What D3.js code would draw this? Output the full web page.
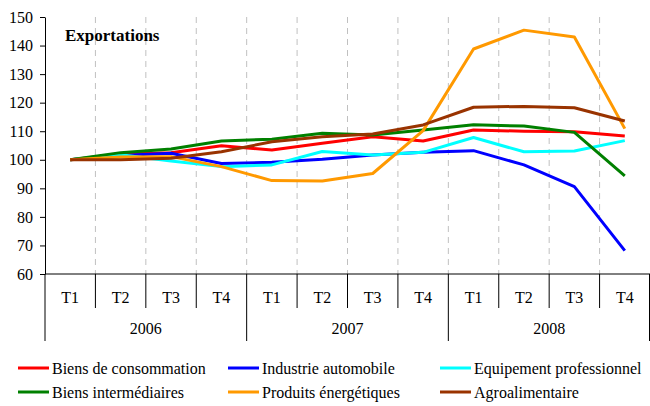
<!DOCTYPE html>
<html>
<head>
<meta charset="utf-8">
<script src="https://cdn.jsdelivr.net/npm/d3@7"></script>
<style>
  body { margin: 0; background: #fff; }
</style>
</head>
<body>
<script>
// quarters and years
const quarters = ["T1", "T2", "T3", "T4", "T1", "T2", "T3", "T4", "T1", "T2", "T3", "T4"];
const years = ["2006", "2007", "2008"];
const yTicks = [60, 70, 80, 90, 100, 110, 120, 130, 140, 150];

// series values
const consommation = [100, 102, 102.5, 104.9, 103.4, 105.8, 108.1, 106.6, 110.4, 110, 109.8, 108.3];
const automobile = [100, 101.5, 102.3, 98.7, 99.1, 100.2, 101.7, 102.6, 103.2, 98.2, 90.6, 68.2];
const equipement = [100, 101.8, 99.6, 97.6, 98.2, 102.9, 101.7, 102.6, 107.8, 102.8, 103.1, 106.7];
const intermediaires = [100, 102.5, 103.8, 106.6, 107.2, 109.3, 108.7, 110.4, 112.3, 111.8, 109.6, 94.4];
const energetiques = [100, 101, 101.1, 97.6, 92.7, 92.6, 95.2, 110.2, 138.8, 145.4, 143, 110.9];
const agro = [100, 100, 100.5, 102.8, 106.3, 108.1, 109, 112.2, 118.4, 118.7, 118.2, 113.6];

const seriesNames = ["Biens de consommation", "Industrie automobile", "Equipement professionnel",
  "Biens intermédiaires", "Produits énergétiques", "Agroalimentaire"];
const seriesColors = ["#ff0000", "#0000ff", "#00ffff", "#008000", "#ff9900", "#993300"];
const seriesValues = [consommation, automobile, equipement, intermediaires, energetiques, agro];

const W = 650, H = 406;
const plot = { left: 45, right: 650, top: 17, bottom: 274 };
const serif = "'Liberation Serif', 'Times New Roman', 'DejaVu Serif', serif";

const svg = d3.select("body").append("svg")
  .attr("width", W)
  .attr("height", H)
  .attr("font-family", serif)
  .style("font-family", serif);

const x = d3.scaleBand()
  .domain(d3.range(quarters.length))
  .range([plot.left, plot.right]);

const y = d3.scaleLinear()
  .domain([60, 150])
  .range([plot.bottom, plot.top]);

// dashed gridlines at category boundaries
svg.append("g")
  .selectAll("line")
  .data(d3.range(1, quarters.length))
  .enter()
  .append("line")
  .attr("x1", i => x(i))
  .attr("x2", i => x(i))
  .attr("y1", plot.top)
  .attr("y2", plot.bottom)
  .attr("stroke", "#c0c0c0")
  .attr("stroke-width", 1)
  .attr("stroke-dasharray", "6,5");

// y axis
const yAxis = svg.append("g")
  .attr("transform", `translate(${plot.left},0)`)
  .call(d3.axisLeft(y).tickValues(yTicks).tickSize(5).tickSizeOuter(0));
yAxis.attr("font-family", serif).attr("font-size", 16);
yAxis.select(".domain").attr("stroke", "#000");
yAxis.selectAll("line").attr("stroke", "#000");
yAxis.selectAll("text")
  .attr("x", -12)
  .attr("fill", "#000");

// x axis line
svg.append("line")
  .attr("x1", plot.left).attr("x2", plot.right)
  .attr("y1", plot.bottom).attr("y2", plot.bottom)
  .attr("stroke", "#000");

// quarter separators
svg.append("g")
  .selectAll("line")
  .data(d3.range(0, quarters.length + 1))
  .enter()
  .append("line")
  .attr("x1", i => i < quarters.length ? x(i) : plot.right - 0.5)
  .attr("x2", i => i < quarters.length ? x(i) : plot.right - 0.5)
  .attr("y1", plot.bottom)
  .attr("y2", i => i % 4 === 0 ? 341 : 308)
  .attr("stroke", "#000");

// quarter labels
svg.append("g")
  .selectAll("text")
  .data(quarters)
  .enter()
  .append("text")
  .attr("x", (d, i) => x(i) + x.bandwidth() / 2)
  .attr("y", 303)
  .attr("text-anchor", "middle")
  .attr("font-size", 16)
  .text(d => d);

// year labels
svg.append("g")
  .selectAll("text")
  .data(years)
  .enter()
  .append("text")
  .attr("x", (d, i) => (x(i * 4) + (i === 2 ? plot.right : x(i * 4 + 4))) / 2)
  .attr("y", 334)
  .attr("text-anchor", "middle")
  .attr("font-size", 16)
  .text(d => d);

// lines
const line = d3.line()
  .x((d, i) => x(i) + x.bandwidth() / 2)
  .y(d => y(d));

svg.append("g")
  .selectAll("path")
  .data(seriesValues)
  .enter()
  .append("path")
  .attr("d", d => line(d))
  .attr("fill", "none")
  .attr("stroke", (d, i) => seriesColors[i])
  .attr("stroke-width", 3)
  .attr("stroke-linejoin", "round");

// title
svg.append("text")
  .attr("x", 65)
  .attr("y", 41)
  .attr("font-size", 17)
  .attr("font-weight", "bold")
  .text("Exportations");

// legend
const legendPos = [[18, 368], [228, 368], [440, 368], [18, 392], [228, 392], [440, 392]];
const legend = svg.append("g")
  .selectAll("g")
  .data(seriesNames)
  .enter()
  .append("g")
  .attr("transform", (d, i) => `translate(${legendPos[i][0]},${legendPos[i][1]})`);

legend.append("line")
  .attr("x1", 0).attr("x2", 31)
  .attr("y1", 0).attr("y2", 0)
  .attr("stroke", (d, i) => seriesColors[i])
  .attr("stroke-width", 3);

legend.append("text")
  .attr("x", 34)
  .attr("y", 6)
  .attr("font-size", 16)
  .text(d => d);
</script>
</body>
</html>
